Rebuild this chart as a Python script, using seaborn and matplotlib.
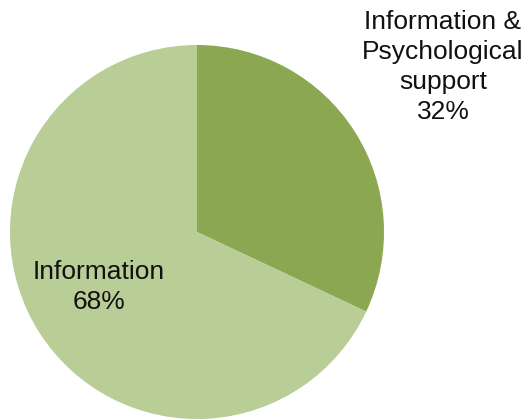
import matplotlib
matplotlib.use("Agg")
import matplotlib.pyplot as plt
import seaborn as sns

categories = ["Information &\nPsychological\nsupport", "Information"]
shares = [32, 68]
colors = ["#8BA752", "#B9CD96"]

sns.set_theme(style="white")
plt.rcParams["font.family"] = ["Liberation Sans", "DejaVu Sans"]

W, H = 526, 420
fig = plt.figure(figsize=(W / 100, H / 100), dpi=100)
ax = fig.add_axes([0, 0, 1, 1])

cx, cy, r = 197, H - 232, 187
ax.pie(shares, colors=colors, startangle=90, counterclock=False,
       center=(cx, cy), radius=r, frame=True,
       wedgeprops=dict(linewidth=0))
ax.set_xlim(0, W)
ax.set_ylim(0, H)
ax.set_aspect("equal")
ax.axis("off")

label_pos = [(443, H - 67), (99, H - 287)]
for name, val, (x, y) in zip(categories, shares, label_pos):
    ax.text(x, y, f"{name}\n{val}%", ha="center", va="center",
            fontsize=19, color="#111111", linespacing=1.3)

fig.savefig("out.png", dpi=100)
